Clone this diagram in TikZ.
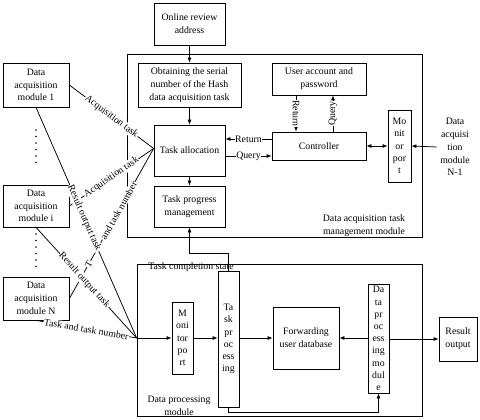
\documentclass[tikz,border=0pt]{standalone}
\usepackage{fontspec}
\setmainfont{Liberation Serif}
\usetikzlibrary{arrows.meta}
\begin{document}
\begin{tikzpicture}[x=1pt,y=-1pt,line width=0.75pt,
  every node/.style={font=\fontsize{9.8}{12.8}\selectfont},
  box/.style={draw,align=center,inner sep=0pt},
  vbox/.style={draw,align=center,inner sep=0pt,font=\fontsize{9.8}{12.2}\selectfont},
  frame/.style={draw,inner sep=0pt},
  arr/.style={-{Latex[length=5pt,width=4pt]}},
  darr/.style={{Latex[length=5pt,width=4pt]}-{Latex[length=5pt,width=4pt]}},
  lbl/.style={fill=white,inner sep=0.6pt,sloped}]
\useasboundingbox (0,0) rectangle (480,420);

% frames
\node[frame,minimum width=295pt,minimum height=183pt] (mgmt) at (274.5,145.5) {};
\node[frame,minimum width=285pt,minimum height=152pt] (proc) at (279.5,340) {};

% management module
\node[box,minimum width=71pt,minimum height=42pt] (online) at (189.5,24) {Online review\\address};
\node[box,minimum width=103pt,minimum height=44pt] (obtain) at (189.5,85) {Obtaining the serial\\number of the Hash\\data acquisition task};
\node[box,minimum width=71pt,minimum height=51pt] (alloc) at (189.5,150.5) {Task allocation};
\node[box,minimum width=71pt,minimum height=41pt] (progress) at (189.5,206.5) {Task progress\\management};
\node[box,minimum width=94pt,minimum height=32pt] (user) at (319,79) {User account and\\password};
\node[box,minimum width=94pt,minimum height=28pt] (ctrl) at (319,146) {Controller};
\node[vbox,minimum width=23pt,minimum height=72pt] (mon1) at (399.5,146) {Mo\\nit\\or\\por\\t};
\node[align=center] (n1) at (455,147) {Data\\acquisi\\tion\\module\\N-1};
\node[align=center] (mgmtlbl) at (364,225.5) {Data acquisition task\\management module};

\draw[arr] (online) -- (obtain);
\draw[arr] (obtain) -- (alloc);
\draw[arr] (alloc) -- (progress);
\draw[arr] ([yshift=7pt]ctrl.west) -- node[lbl]{Return} ([yshift=7pt]ctrl.west -| alloc.east);
\draw[arr] ([yshift=-5.5pt]alloc.east) -- node[lbl]{Query} ([yshift=-5.5pt]alloc.east -| ctrl.west);
\draw[arr] ([xshift=-23pt]user.south) -- node[fill=white,inner sep=0.6pt,rotate=-90]{Return} ([xshift=-23pt]ctrl.north);
\draw[arr] ([xshift=14pt]ctrl.north) -- node[fill=white,inner sep=0.6pt,rotate=90]{Query} ([xshift=14pt]user.south);
\draw[darr] (ctrl.east) -- (mon1.west);
\draw[arr] (n1.west) -- (mon1.east);

% data acquisition modules
\node[box,minimum width=66pt,minimum height=44pt] (dam1) at (36,85) {Data\\acquisition\\module 1};
\node[box,minimum width=66pt,minimum height=42pt] (dami) at (36,206) {Data\\acquisition\\module i};
\node[box,minimum width=66pt,minimum height=43pt] (damN) at (36,298.5) {Data\\acquisition\\module N};
\foreach \yy in {130,136.5,143,149.5,156,162.5} \fill (36,\yy) circle (0.85pt);
\foreach \yy in {234,240.5,247,253.5,260,266.5} \fill (36,\yy) circle (0.85pt);

% data processing module
\node[vbox,minimum width=21pt,minimum height=72pt] (mon2) at (182.5,338) {M\\oni\\tor\\po\\rt};
\node[vbox,minimum width=21pt,minimum height=136pt] (tproc) at (228.5,339) {Ta\\sk\\pr\\oc\\ess\\ing};
\node[box,minimum width=66pt,minimum height=62pt] (fwd) at (306,338) {Forwarding\\user database};
\node[vbox,minimum width=21pt,minimum height=109pt] (dpm) at (378.5,338.5) {Da\\ta\\pr\\oc\\ess\\ing\\mo\\dul\\e};
\node[box,minimum width=38pt,minimum height=44pt] (res) at (458,339) {Result\\output};
\node (tcs) at (191,267.5) {Task completion state};
\node[align=center] (proclbl) at (179,406) {Data processing\\module};

\coordinate (ta) at ([yshift=2pt]alloc.west);
\coordinate (pin) at (mon2.west -| proc.west);

% connectors on the left
\draw (dam1.east) -- node[lbl]{Acquisition task} (ta);
\draw (dami.east) -- node[lbl]{Acquisition task} (ta);
\draw (damN.east) -- node[lbl,pos=0.23]{T} node[lbl,pos=0.585]{and task number} (ta);
\draw (dami.south) -- node[lbl,pos=0.48]{Result output task} (pin);
\draw (dam1.south) -- node[lbl,pos=0.48]{Result output task} (pin);
\draw (damN.south) -- node[lbl]{Task and task number} (pin);
\draw[arr] (pin) -- (mon2.west);

% processing arrows
\draw[arr] (mon2.east) -- (mon2.east -| tproc.west);
\draw[arr] (mon2.east -| tproc.east) -- (mon2.east -| fwd.west);
\draw[arr] (dpm.west |- fwd.east) -- (fwd.east);
\draw[arr] (dpm.east |- res.west) -- (res.west);
\draw[arr] (tproc.north) -- ++(0,-17) -| (progress.south);
\draw[arr] (tproc.south) -- ++(0,5) -| (dpm.south);
\end{tikzpicture}
\end{document}
